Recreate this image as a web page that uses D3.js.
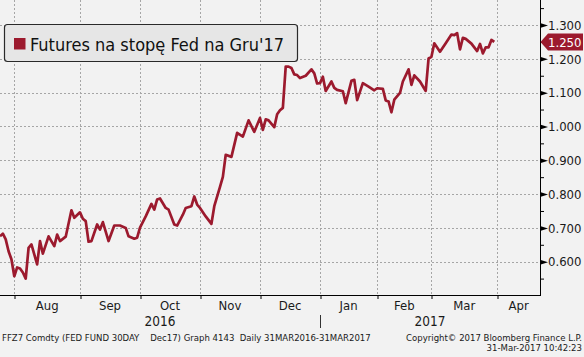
<!DOCTYPE html>
<html><head><meta charset="utf-8">
<script src="https://cdn.jsdelivr.net/npm/d3@7"></script>
<style>html,body{margin:0;padding:0;background:#f2f2f2;} svg{display:block;}</style>
</head><body><svg id="c" width="584" height="357"></svg>
<script>
// ---- data ----
const dates = [
"2016-07-25","2016-07-26","2016-07-27","2016-07-28","2016-07-29",
"2016-08-01","2016-08-02","2016-08-03","2016-08-04","2016-08-05","2016-08-08","2016-08-09","2016-08-11","2016-08-12","2016-08-15","2016-08-17","2016-08-19","2016-08-22","2016-08-23","2016-08-25","2016-08-29","2016-08-30",
"2016-09-01","2016-09-02","2016-09-06","2016-09-07","2016-09-08","2016-09-12","2016-09-13","2016-09-14","2016-09-16","2016-09-20","2016-09-22","2016-09-26","2016-09-27","2016-09-29","2016-09-30",
"2016-10-03","2016-10-05","2016-10-07","2016-10-10","2016-10-11","2016-10-12","2016-10-14","2016-10-17","2016-10-19","2016-10-20","2016-10-24","2016-10-25","2016-10-27","2016-10-28","2016-10-31",
"2016-11-01","2016-11-03","2016-11-07","2016-11-08","2016-11-10","2016-11-11","2016-11-14","2016-11-16","2016-11-18","2016-11-22","2016-11-25","2016-11-29",
"2016-12-01","2016-12-02","2016-12-05","2016-12-06","2016-12-08","2016-12-09","2016-12-12","2016-12-13","2016-12-14","2016-12-15","2016-12-16","2016-12-19","2016-12-20","2016-12-21","2016-12-23","2016-12-28","2016-12-29","2016-12-30",
"2017-01-03","2017-01-04","2017-01-05","2017-01-09","2017-01-10","2017-01-11","2017-01-13","2017-01-17","2017-01-19","2017-01-20","2017-01-23","2017-01-25","2017-01-27","2017-01-31",
"2017-02-01","2017-02-03","2017-02-06","2017-02-07","2017-02-08","2017-02-09","2017-02-13","2017-02-14","2017-02-16","2017-02-17","2017-02-21","2017-02-23","2017-02-27","2017-02-28",
"2017-03-01","2017-03-02","2017-03-06","2017-03-08","2017-03-10","2017-03-13","2017-03-14","2017-03-15","2017-03-16","2017-03-17","2017-03-21","2017-03-23","2017-03-24","2017-03-27","2017-03-28","2017-03-29","2017-03-30","2017-03-31"
];
const values = [
0.675,0.683,0.666,0.631,0.607,
0.557,0.583,0.580,0.568,0.550,0.641,0.651,0.592,0.661,0.624,0.675,0.646,0.680,0.661,0.674,0.752,0.730,
0.746,0.727,0.720,0.659,0.661,0.710,0.695,0.717,0.661,0.707,0.707,0.700,0.675,0.668,0.671,
0.701,0.734,0.771,0.754,0.784,0.787,0.759,0.754,0.710,0.707,0.739,0.759,0.764,0.793,0.769,
0.759,0.734,0.712,0.764,0.821,0.851,0.916,0.910,0.981,0.970,1.018,0.984,
1.025,0.990,1.021,1.018,0.998,1.036,1.048,1.055,1.177,1.177,1.173,1.154,1.152,1.143,1.150,1.169,1.157,1.127,
1.128,1.147,1.105,1.133,1.114,1.108,1.104,1.069,1.135,1.138,1.078,1.128,1.118,1.107,
1.113,1.111,1.077,1.074,1.042,1.079,1.099,1.133,1.169,1.123,1.151,1.133,1.105,1.201,
1.206,1.246,1.221,1.246,1.272,1.270,1.276,1.228,1.262,1.259,1.245,1.223,1.244,1.216,1.234,1.234,1.256,1.250
];
const holidays = ["2016-09-05","2016-11-24","2016-12-26","2017-01-02","2017-01-16","2017-02-20","2017-04-14"];
const viewStart = "2016-07-25", viewEnd = "2017-04-25", calendarEnd = "2017-05-31";
const monthLabels = ["Aug","Sep","Oct","Nov","Dec","Jan","Feb","Mar","Apr"];
const monthStarts = ["2016-08-01","2016-09-01","2016-10-01","2016-11-01","2016-12-01","2017-01-01","2017-02-01","2017-03-01","2017-04-01","2017-05-01"];
const yearLabels = ["2016","2017"];
const yearStarts = ["2016-07-25","2017-01-01"];
const yMajor = [0.6,0.7,0.8,0.9,1.0,1.1,1.2,1.3];
const yMinor = [0.55,0.65,0.75,0.85,0.95,1.05,1.15,1.25,1.35];
const yDomain = [0.5, 1.374];
const lastValue = 1.250;
const seriesName = "Futures na stopę Fed na Gru'17";
const footerLeft = "FFZ7 Comdty (FED FUND 30DAY    Dec17) Graph 4143  Daily 31MAR2016-31MAR2017";
const footerRight1 = "Copyright© 2017 Bloomberg Finance L.P.";
const footerRight2 = "31-Mar-2017 10:42:23";

// ---- trading-day calendar ----
const parse = d3.utcParse("%Y-%m-%d"), fmt = d3.utcFormat("%Y-%m-%d");
const hol = new Set(holidays);
const tradingDays = d3.utcDays(parse(viewStart), d3.utcDay.offset(parse(calendarEnd),1))
  .filter(d => d.getUTCDay() !== 0 && d.getUTCDay() !== 6 && !hol.has(fmt(d)));
const tIndex = s => { const t = parse(s); return d3.bisectLeft(tradingDays, t); };

const RED = "#9c1a2e";
const FONT = "'DejaVu Sans Condensed','DejaVu Sans',sans-serif";
const W = 540, H = 295;
const svg = d3.select("#c");
svg.append("rect").attr("width",584).attr("height",357).attr("fill","#f2f2f2");

const x = d3.scaleLinear().domain([0, tIndex(viewEnd)]).range([0, W]);
const y = d3.scaleLinear().domain(yDomain).range([H + 0.5, 0]);

const monthIdx = monthStarts.map(tIndex);

// grid
const grid = svg.append("g").attr("stroke","#a6a6a6").attr("stroke-dasharray","2,2").attr("stroke-width",1);
grid.selectAll("line.h").data(yMajor).join("line").attr("class","h")
  .attr("x1",0).attr("x2",W).attr("y1",d=>Math.round(y(d))+0.5).attr("y2",d=>Math.round(y(d))+0.5);
grid.selectAll("line.v").data(monthIdx.slice(0,9)).join("line").attr("class","v")
  .attr("x1",d=>Math.round(x(d))+0.5).attr("x2",d=>Math.round(x(d))+0.5).attr("y1",0).attr("y2",H);

// line
const pts = dates.map((d,i)=>({i:tIndex(d), v:values[i]}));
svg.append("path").datum(pts)
  .attr("fill","none").attr("stroke",RED).attr("stroke-width",2.7).attr("stroke-linejoin","round")
  .attr("d", d3.line().x(d=>x(d.i)).y(d=>y(d.v)));

// bottom axis
const xAxis = d3.axisBottom(x).tickValues(monthIdx.slice(0,9)).tickFormat("").tickSize(4).tickSizeOuter(0);
const gx = svg.append("g").attr("transform",`translate(0,${H})`).call(xAxis);
gx.selectAll("line,path").attr("stroke","#000");
gx.select(".domain").attr("d", `M0,0.5H${W+1}`);
gx.selectAll(".tick line").attr("transform", d=>`translate(${Math.round(x(d))+0.5 - x(d)},0)`);

// month labels
const [d0,d1] = x.domain();
const labG = svg.append("g").attr("font-family",FONT).attr("font-size",13).attr("fill","#1a1a1a").attr("text-anchor","middle");
monthLabels.forEach((m,k)=>{
  const a = Math.max(monthIdx[k], d0), b = Math.min(monthIdx[k+1], d1);
  labG.append("text").attr("x", x((a+b)/2)).attr("y", 310).text(m);
});
const yearIdx = yearStarts.map(tIndex);
yearLabels.forEach((yl,k)=>{
  const a = Math.max(yearIdx[k], d0), b = k+1<yearIdx.length ? yearIdx[k+1] : d1;
  labG.append("text").attr("x", x((a+b)/2)).attr("y", 325.5).attr("font-size",13.5).text(yl);
});
svg.append("line").attr("x1",Math.round(x(yearIdx[1]))+0.5).attr("x2",Math.round(x(yearIdx[1]))+0.5)
  .attr("y1",315).attr("y2",328).attr("stroke","#333");

// right axis
const yAxis = d3.axisRight(y).tickValues(yMajor).tickFormat(d3.format(".3f")).tickSize(0).tickPadding(8).tickSizeOuter(0);
const gy = svg.append("g").attr("transform",`translate(${W},0)`).call(yAxis);
gy.select(".domain").attr("stroke","#000").attr("d",`M0.5,0V${H+1}`);
gy.selectAll("text").attr("font-family",FONT).attr("font-size",13).attr("fill","#1a1a1a");
gy.selectAll(".tick").append("path").attr("d","M0,-2.5L8,0L0,2.5Z").attr("fill","#000");
const yAxisMinor = d3.axisRight(y).tickValues(yMinor).tickFormat("").tickSize(4).tickSizeOuter(0);
const gm = svg.append("g").attr("transform",`translate(${W},0)`).call(yAxisMinor);
gm.select(".domain").remove();
gm.selectAll("line").attr("stroke","#000");

// last value tag
const ly = y(lastValue);
svg.append("path").attr("d",`M${W+0.5},${ly}L${W+8},${ly-8.5}H583V${ly+8.5}H${W+8}Z`).attr("fill",RED);
svg.append("text").attr("x",W+8).attr("y",ly).attr("dy","0.36em").attr("font-family",FONT).attr("font-size",13)
  .attr("fill","#fff").text(d3.format(".3f")(lastValue));

// legend
const lg = svg.append("g");
lg.append("rect").attr("x",4.5).attr("y",24.5).attr("width",293).attr("height",37).attr("rx",3)
  .attr("fill","#e6e6e6").attr("stroke","#2a2a2a").attr("stroke-width",1.2);
lg.append("rect").attr("x",14).attr("y",38).attr("width",11.5).attr("height",11.5).attr("fill",RED);
lg.append("text").attr("x",30).attr("y",50.5).attr("font-family",FONT).attr("font-size",18).attr("fill","#111").text(seriesName);

// footer
const ft = svg.append("g").attr("font-family",FONT).attr("font-size",9.5).attr("fill","#1a1a1a");
const ftext = (xx,yy,anchor,s) => ft.append("text").attr("x",xx).attr("y",yy).attr("text-anchor",anchor)
  .attr("xml:space","preserve").style("white-space","pre").text(s);
ftext(2,340.5,"start",footerLeft);
ftext(582,340.5,"end",footerRight1);
ftext(582,350.5,"end",footerRight2);
</script></body></html>
